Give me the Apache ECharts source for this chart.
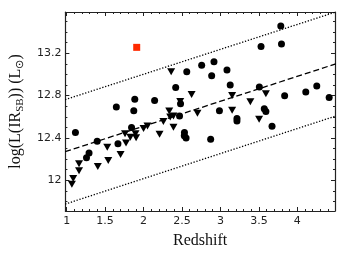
<!DOCTYPE html>
<html><head><meta charset="utf-8">
<script src="https://cdn.jsdelivr.net/npm/echarts@6/dist/echarts.min.js"></script>
<style>html,body{margin:0;padding:0;background:#fff}#c{width:357px;height:254px}</style>
</head><body><div id="c"></div>
<script>
// ---- data ----
const circleZ = [1.114,1.397,1.291,1.258,1.646,1.886,1.873,1.844,1.667,2.144,2.418,2.481,2.468,2.562,2.756,2.532,2.530,2.553,
  3.785,3.528,3.794,2.916,2.886,3.085,3.127,3.506,3.835,4.110,4.253,4.414,2.987,3.215,3.215,3.570,3.591,3.671,2.873];
const circleV = [12.452,12.368,12.259,12.212,12.692,12.766,12.658,12.499,12.346,12.754,12.876,12.723,12.607,13.025,13.088,12.452,12.420,12.399,
  13.458,13.265,13.287,13.119,12.988,13.041,12.901,12.882,12.798,12.835,12.892,12.782,12.658,12.583,12.561,12.677,12.649,12.511,12.387];
const triZ = [1.068,1.085,1.161,1.161,1.405,1.528,1.541,1.701,1.772,1.759,1.828,1.895,1.903,2.000,2.051,2.208,2.258,2.334,2.347,2.389,2.389,2.359,2.625,2.701,2.477,
  3.152,3.591,3.389,3.152,3.503];
const triV = [11.963,12.016,12.156,12.091,12.131,12.312,12.187,12.243,12.352,12.439,12.406,12.439,12.402,12.490,12.514,12.436,12.555,12.654,12.598,12.607,12.502,13.025,12.810,12.633,12.745,
  12.801,12.817,12.742,12.661,12.577];
const specialZ = [1.911];
const specialV = [13.256];
const lineZ = [0.98, 4.5];
const dashedV = [12.27, 13.10];
const upperV = [12.762, 13.59];
const lowerV = [11.775, 12.607];
const xLabelTicks = [1, 1.5, 2, 2.5, 3, 3.5, 4];
const yLabelTicks = [12, 12.4, 12.8, 13.2];
const xMinorTicks = [1.0,1.1,1.2,1.3,1.4,1.5,1.6,1.7,1.8,1.9,2.0,2.1,2.2,2.3,2.4,2.5,2.6,2.7,2.8,2.9,3.0,3.1,3.2,3.3,3.4,3.5,3.6,3.7,3.8,3.9,4.0,4.1,4.2,4.3,4.4];
const yMinorTicks = [11.8,11.9,12.0,12.1,12.2,12.3,12.4,12.5,12.6,12.7,12.8,12.9,13.0,13.1,13.2,13.3,13.4,13.5];

const pairs = (a, b) => a.map((v, i) => [v, b[i]]);
const X = {min: 0.9835, max: 4.49};
const Y = {min: 11.71, max: 13.59};
const lineCol = '#222';

function mkX(pos, major, withLabel, withLine) {
  return {
    type: 'value', position: pos, min: X.min, max: X.max, gridIndex: 0,
    axisLine: {show: withLine, lineStyle: {color: lineCol, width: 1.2}},
    splitLine: {show: false},
    axisTick: {show: true, inside: true, length: major ? 4 : 2, customValues: major ? xLabelTicks : xMinorTicks,
      lineStyle: {color: lineCol, width: 1}},
    axisLabel: {show: withLabel, customValues: xLabelTicks, margin: 5, color: '#222',
      fontFamily: 'DejaVu Sans', fontSize: 11, formatter: v => String(v)},
  };
}
function mkY(pos, major, withLabel, withLine) {
  return {
    type: 'value', position: pos, min: Y.min, max: Y.max, gridIndex: 0,
    axisLine: {show: withLine, lineStyle: {color: lineCol, width: 1.2}},
    splitLine: {show: false},
    axisTick: {show: true, inside: true, length: major ? 4 : 2, customValues: major ? yLabelTicks : yMinorTicks,
      lineStyle: {color: lineCol, width: 1}},
    axisLabel: {show: withLabel, customValues: yLabelTicks, margin: 4, color: '#222',
      fontFamily: 'DejaVu Sans', fontSize: 11, formatter: v => String(v)},
  };
}

const xAxes = [mkX('bottom', true, true, true), mkX('bottom', false, false, false), mkX('top', true, false, true), mkX('top', false, false, false)];
xAxes[0].name = 'Redshift';
xAxes[0].nameLocation = 'middle';
xAxes[0].nameGap = 22;
xAxes[0].nameTextStyle = {fontFamily: 'Liberation Serif', fontSize: 16, color: '#111'};
const yAxes = [mkY('left', true, true, true), mkY('left', false, false, false), mkY('right', true, false, true), mkY('right', false, false, false)];
yAxes[0].name = '{a|log(L(IR}{s|SB}{a|)) (L}{s|\u2299}{a|)}';
yAxes[0].nameLocation = 'middle';
yAxes[0].nameGap = 28;
yAxes[0].nameTextStyle = {fontFamily: 'Liberation Serif', fontSize: 16, color: '#111',
  rich: {
    a: {fontFamily: 'Liberation Serif', fontSize: 16, color: '#111', lineHeight: 20},
    s: {fontFamily: 'Liberation Serif', fontSize: 11, color: '#111', lineHeight: 12, verticalAlign: 'bottom'}
  }};

const chart = echarts.init(document.getElementById('c'), null, {renderer: 'canvas'});
chart.setOption({
  animation: false,
  backgroundColor: '#fff',
  grid: {left: 58, top: 12, width: 277, height: 201, containLabel: false},
  xAxis: xAxes,
  yAxis: yAxes,
  series: [
    {type: 'line', data: pairs(lineZ, dashedV), symbol: 'none', clip: true,
      lineStyle: {color: '#000', width: 1.3, type: [6, 3]}},
    {type: 'line', data: pairs(lineZ, upperV), symbol: 'none', clip: true,
      lineStyle: {color: '#000', width: 1.3, type: [1.3, 1.7]}},
    {type: 'line', data: pairs(lineZ, lowerV), symbol: 'none', clip: true,
      lineStyle: {color: '#000', width: 1.3, type: [1.3, 1.7]}},
    {type: 'scatter', data: pairs(circleZ, circleV), symbol: 'circle', symbolSize: 7,
      itemStyle: {color: '#000', opacity: 1}},
    {type: 'scatter', data: pairs(triZ, triV), symbol: 'triangle', symbolRotate: 180, symbolSize: [8, 7],
      itemStyle: {color: '#000', opacity: 1}},
    {type: 'scatter', data: pairs(specialZ, specialV), symbol: 'rect', symbolSize: 7,
      itemStyle: {color: '#ff2a00', opacity: 1}}
  ]
});
</script></body></html>
